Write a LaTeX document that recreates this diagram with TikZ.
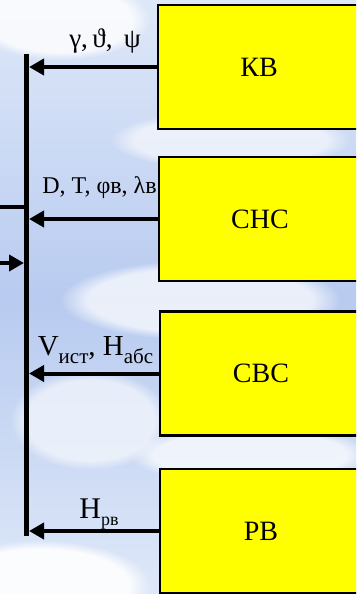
\documentclass[tikz,border=0pt]{standalone}
\usepackage{fontspec}
\setmainfont{Liberation Serif}
\usetikzlibrary{arrows.meta,fadings}
\definecolor{sky}{RGB}{184,203,240}
\definecolor{skylight}{RGB}{222,232,248}
\definecolor{boxyellow}{RGB}{255,255,0}
\tikzset{
  box/.style={draw=black, line width=2.6pt, fill=boxyellow, minimum width=202pt, minimum height=124pt, inner sep=0pt, font=\fontsize{28}{30}\selectfont},
  bus/.style={line width=5pt, draw=black},
  plainline/.style={line width=4pt, draw=black},
  arr/.style={line width=4pt, draw=black, -{Triangle[length=15pt,width=16pt]}},
  lbl/.style={anchor=base, inner sep=0pt, font=\fontsize{24}{26}\selectfont},
  cloud/.style={fill=white, path fading=circle with fuzzy edge 20 percent},
}
\begin{document}
\begin{tikzpicture}[x=1pt,y=-1pt]
\useasboundingbox (0,0) rectangle (356,594);
\clip (0,0) rectangle (356,594);
% sky background
\shade[top color=skylight, bottom color=sky] (0,0) rectangle (356,300);
\shade[top color=sky, bottom color=skylight] (0,300) rectangle (356,594);
\fill[cloud, opacity=0.8] (60,20) ellipse (90pt and 40pt);
\fill[cloud, opacity=0.6] (230,140) ellipse (120pt and 30pt);
\fill[cloud, opacity=0.7] (200,300) ellipse (140pt and 40pt);
\fill[cloud, opacity=0.6] (90,420) ellipse (80pt and 50pt);
\fill[cloud, opacity=0.9] (40,585) ellipse (110pt and 45pt);
\fill[cloud, opacity=0.7] (250,455) ellipse (120pt and 30pt);
% boxes
\node[box] (kv)  at (259,67)  {КВ};
\node[box] (snc) at (260,219) {СНС};
\node[box] (svc) at (261,373.5) {СВС};
\node[box] (rv)  at (261,531) {РВ};
% bus
\coordinate (bt) at (26.5,54);
\coordinate (bb) at (26.5,536);
\draw[bus] (bt) -- (bb);
% left side
\coordinate (l1) at (-2,207);
\coordinate (l2) at (-2,263);
\draw[plainline] (l1) -- (l1 -| bt);
\draw[arr, shorten >=2.5pt] (l2) -- (l2 -| bt);
% arrows into bus
\draw[arr] (kv.west) -- ([xshift=2.5pt]kv.west -| bt);
\draw[arr] (snc.west) -- ([xshift=2.5pt]snc.west -| bt);
\draw[arr] (svc.west) -- ([xshift=2.5pt]svc.west -| bt);
\draw[arr] (rv.west) -- ([xshift=2.5pt]rv.west -| bt);
% labels
\node[lbl, font=\fontsize{27}{29}\selectfont] (t1) at (105,48) {γ,\,ϑ,\, ψ};
\node[lbl] (t2) at (99.5,193) {D, T, φв, λв};
\node[lbl, font=\fontsize{29}{31}\selectfont] (t3) at (95.5,355) {V\raisebox{-0.28em}{\fontsize{21}{22}\selectfont ист}, H\raisebox{-0.28em}{\fontsize{21}{22}\selectfont абс}};
\node[lbl, font=\fontsize{30}{32}\selectfont] (t4) at (99,518) {H\raisebox{-0.25em}{\fontsize{18}{20}\selectfont рв}};
\end{tikzpicture}
\end{document}
